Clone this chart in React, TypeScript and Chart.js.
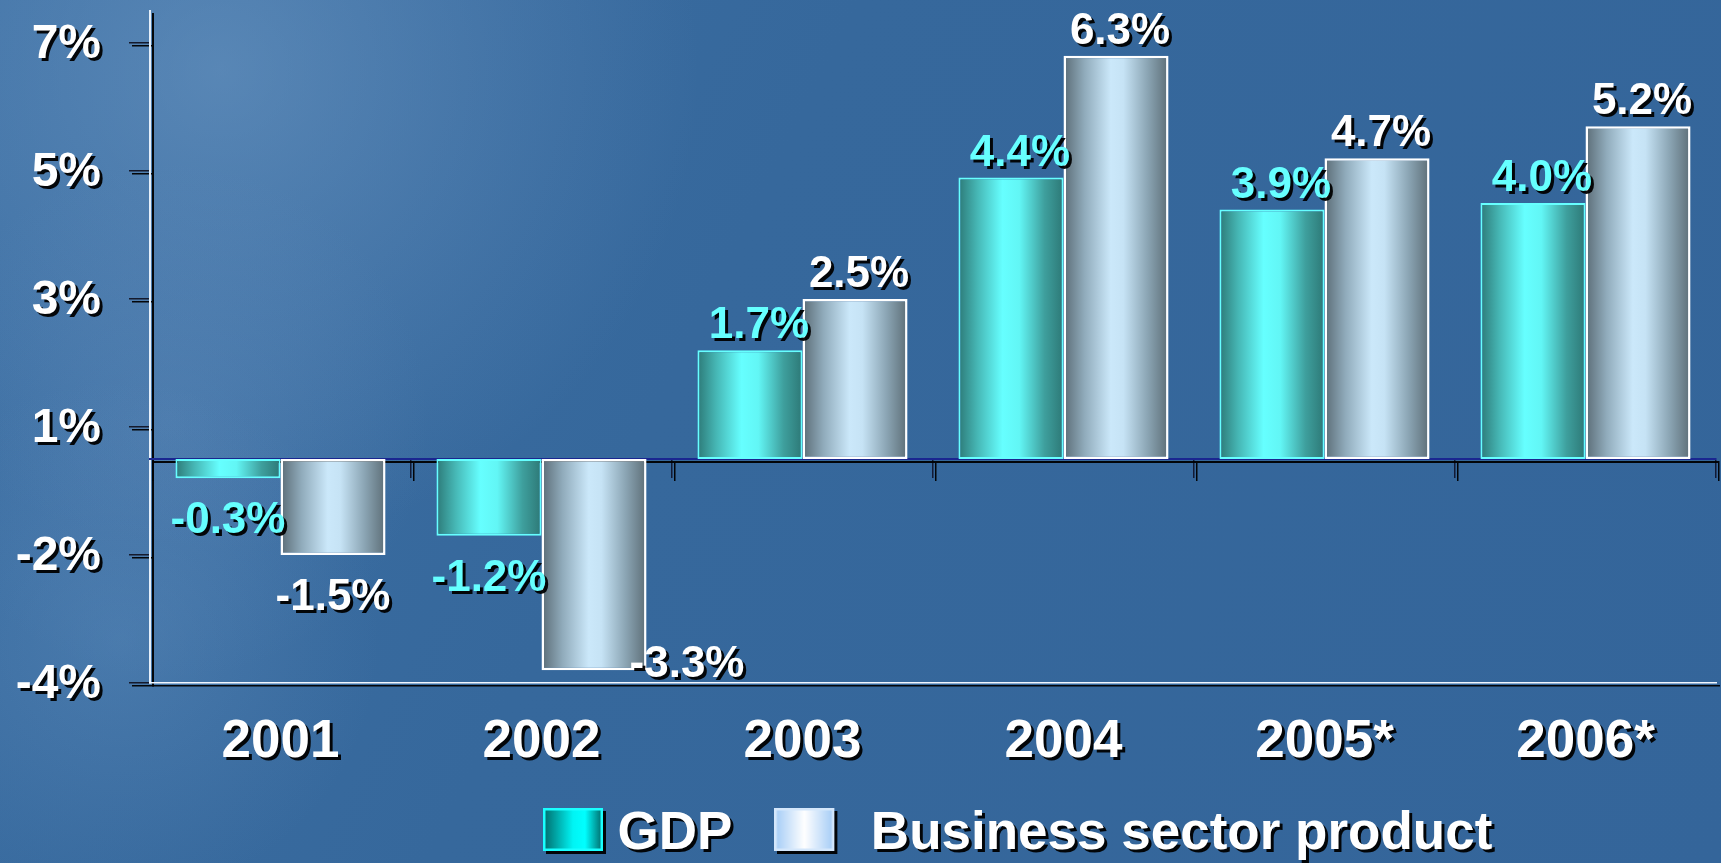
import React, { useEffect, useRef } from 'react';
import { Chart, registerables } from 'chart.js';

Chart.register(...registerables);

// ---- data ----
const CATEGORIES = ['2001', '2002', '2003', '2004', '2005*', '2006*'];
const GDP = [-0.3, -1.2, 1.7, 4.4, 3.9, 4.0];
const BUSINESS = [-1.5, -3.3, 2.5, 6.3, 4.7, 5.2];
const SERIES_NAMES = ['GDP', 'Business sector product'];
const Y_TICK_VALUES = [-3.5, -1.5, 0.5, 2.5, 4.5, 6.5];
const Y_TICK_LABELS = ['-4%', '-2%', '1%', '3%', '5%', '7%'];
const Y_MIN = -3.5;
const Y_MAX = 7;

// ---- style ----
const W = 1721;
const H = 863;
const FONT = '"Liberation Sans", Arial, Helvetica, sans-serif';
const CAT_PCT = 0.805;
const LEGEND_START_X = 519;
const LABEL_COLORS = ['#66ffff', '#ffffff'];

const GDP_STOPS: [number, string][] = [
  [0, '#2d7a78'],
  [0.18, '#46b7b5'],
  [0.42, '#66ffff'],
  [0.58, '#62f6f5'],
  [0.82, '#3e9f9d'],
  [1, '#2d7876'],
];
const BSP_STOPS: [number, string][] = [
  [0, '#5b6c76'],
  [0.2, '#90abbb'],
  [0.45, '#cbe8fa'],
  [0.57, '#c6e3f5'],
  [0.8, '#8ba5b4'],
  [1, '#5d6e77'],
];

function barGradient(stops: [number, string][]) {
  return (c: any) => {
    const chart = c.chart;
    const xs = chart.scales && chart.scales.x;
    if (c.type !== 'data' || !xs || !(xs.right > xs.left)) return stops[2][1];
    const n = chart.data.labels.length;
    const catW = (xs.right - xs.left) / n;
    const barW = (catW * CAT_PCT) / 2;
    const center = xs.getPixelForValue(c.dataIndex);
    const left = center - (catW * CAT_PCT) / 2 + c.datasetIndex * barW;
    const g = chart.ctx.createLinearGradient(left, 0, left + barW, 0);
    stops.forEach(([o, col]) => g.addColorStop(o, col));
    return g;
  };
}

// legend swatch: a 60x43 box inside a transparent canvas; `off` moves the box
// horizontally relative to the canvas centre, the box sits 5px above centre
function makeIcon(stops: [number, string][], border: string, off: number) {
  const cv = document.createElement('canvas');
  const cw = Math.round(60 + 2 * Math.abs(off));
  cv.width = cw;
  cv.height = 53;
  const bx = off > 0 ? cw - 60 : 0;
  const x = cv.getContext('2d')!;
  const g = x.createLinearGradient(bx, 0, bx + 60, 0);
  stops.forEach(([o, col]) => g.addColorStop(o, col));
  x.fillStyle = g;
  x.fillRect(bx, 0, 60, 43);
  x.strokeStyle = border;
  x.lineWidth = 2.5;
  x.strokeRect(bx + 1.25, 1.25, 57.5, 40.5);
  return cv;
}

function setShadow(ctx: CanvasRenderingContext2D, on: boolean) {
  ctx.shadowColor = on ? 'rgba(0,0,0,0.95)' : 'rgba(0,0,0,0)';
  ctx.shadowOffsetX = on ? 3 : 0;
  ctx.shadowOffsetY = on ? 3 : 0;
  ctx.shadowBlur = 0;
}

function paintBackground(ctx: CanvasRenderingContext2D) {
  const base = ctx.createLinearGradient(0, 0, W, H);
  base.addColorStop(0, '#3c6fa3');
  base.addColorStop(0.4, '#36689c');
  base.addColorStop(1, '#34659a');
  ctx.fillStyle = base;
  ctx.fillRect(0, 0, W, H);
  const glow = (cx: number, cy: number, r: number, col: string) => {
    const g = ctx.createRadialGradient(cx, cy, 0, cx, cy, r);
    g.addColorStop(0, col);
    g.addColorStop(1, 'rgba(120,160,205,0)');
    ctx.fillStyle = g;
    ctx.fillRect(0, 0, W, H);
  };
  glow(220, 70, 480, 'rgba(130,170,210,0.42)');
  glow(170, 420, 260, 'rgba(120,160,205,0.22)');
  glow(120, 640, 260, 'rgba(120,165,210,0.25)');
}

const slidePlugin = {
  id: 'slideLook',
  afterLayout(chart: any) {
    const lg = chart.legend;
    if (lg && lg.lineWidths) {
      const pad = lg.options.labels.padding;
      const start = (lg.left + pad + lg.right - lg.lineWidths[0]) / 2;
      const shift = LEGEND_START_X - start;
      lg.left += shift;
      lg.right += shift;
    }
  },
  beforeDraw(chart: any) {
    const ctx = chart.ctx;
    setShadow(ctx, false);
    paintBackground(ctx);
    setShadow(ctx, true);
  },
  beforeDatasetsDraw(chart: any) {
    setShadow(chart.ctx, false);
  },
  afterDatasetsDraw(chart: any) {
    const ctx = chart.ctx;
    setShadow(ctx, true);
    ctx.save();
    ctx.font = `bold 44px ${FONT}`;
    ctx.textAlign = 'center';
    ctx.textBaseline = 'middle';
    chart.data.datasets.forEach((ds: any, di: number) => {
      const meta = chart.getDatasetMeta(di);
      meta.data.forEach((el: any, i: number) => {
        const v = ds.data[i];
        const txt = `${v.toFixed(1)}%`;
        const p = el.getProps(['x', 'y', 'width'], true);
        ctx.fillStyle = LABEL_COLORS[di];
        let x = p.x;
        let y: number;
        if (v >= 0) {
          x += di === 0 ? 9 : 4;
          y = p.y - 24;
        } else {
          y = p.y + 43;
          if (y + 20 > chart.chartArea.bottom) {
            const w = ctx.measureText(txt).width;
            x = p.x + p.width / 2 + w / 2 - 17;
            y = p.y - 5;
          }
        }
        ctx.fillText(txt, x, y);
      });
    });
    ctx.restore();
  },
};

export default function App() {
  const ref = useRef<HTMLCanvasElement>(null);

  useEffect(() => {
    document.body.style.margin = '0';
    document.body.style.background = '#36689c';
    const icons = [
      makeIcon([[0, '#006868'], [0.5, '#00f4f4'], [0.7, '#00ffff'], [1, '#006464']], '#19ffff', 18),
      makeIcon([[0, '#a2cbf6'], [0.5, '#ffffff'], [1, '#a2cbf6']], '#d4e7fb', -4),
    ];

    const chart = new Chart(ref.current!, {
      type: 'bar',
      data: {
        labels: CATEGORIES,
        datasets: [
          {
            label: SERIES_NAMES[0],
            data: GDP,
            backgroundColor: barGradient(GDP_STOPS),
            borderColor: '#66ffff',
            borderWidth: 2,
            borderSkipped: false,
            xAxisID: 'x',
            yAxisID: 'y',
            categoryPercentage: CAT_PCT,
            barPercentage: 1,
          },
          {
            label: SERIES_NAMES[1],
            data: BUSINESS,
            backgroundColor: barGradient(BSP_STOPS),
            borderColor: '#ffffff',
            borderWidth: 2.5,
            borderSkipped: false,
            xAxisID: 'x',
            yAxisID: 'y',
            categoryPercentage: CAT_PCT,
            barPercentage: 1,
          },
        ],
      },
      options: {
        responsive: false,
        animation: false,
        devicePixelRatio: 1,
        events: [],
        layout: { padding: { top: 11, right: 5, left: 0, bottom: -8 } },
        scales: {
          y: {
            type: 'linear',
            position: 'left',
            min: Y_MIN,
            max: Y_MAX,
            afterBuildTicks: (s: any) => {
              s.ticks = Y_TICK_VALUES.map((v) => ({ value: v }));
            },
            afterFit: (s: any) => {
              s.width = 150;
              s.paddingTop = 0;
              s.paddingBottom = 0;
            },
            ticks: {
              autoSkip: false,
              callback: (_v: any, i: number) => Y_TICK_LABELS[i],
              color: '#ffffff',
              font: { family: FONT, size: 48, weight: 'bold' },
              padding: 28,
              labelOffset: 2,
            },
            grid: { drawOnChartArea: false, drawTicks: true, tickLength: 21, color: '#151a2c', lineWidth: 1.5 },
            border: { display: true, color: '#e6eff9', width: 2 },
          },
          x: {
            type: 'category',
            position: { y: 0 } as any,
            offset: true,
            grid: { offset: true, drawOnChartArea: false, drawTicks: true, tickLength: 18, color: '#121a35', lineWidth: 1.5 },
            border: { display: true, color: '#1a2690', width: 2 },
            ticks: { display: false },
          },
          x2: {
            type: 'category',
            axis: 'x',
            position: 'bottom',
            offset: true,
            grid: { display: false, drawTicks: false },
            border: { display: true, color: '#f2f7ff', width: 1.5 },
            ticks: {
              color: '#ffffff',
              font: { family: FONT, size: 53, weight: 'bold' },
              padding: 28,
              maxRotation: 0,
              autoSkip: false,
            },
            afterFit: (s: any) => {
              s.height = 85;
              s.paddingLeft = 0;
              s.paddingRight = 0;
            },
          } as any,
        },
        plugins: {
          tooltip: { enabled: false },
          title: { display: false },
          legend: {
            display: true,
            position: 'bottom',
            align: 'center',
            labels: {
              usePointStyle: true,
              pointStyleWidth: 72,
              padding: 40,
              color: '#ffffff',
              font: { family: FONT, size: 53, weight: 'bold' },
              generateLabels: () =>
                SERIES_NAMES.map((t, i) => ({
                  text: t,
                  pointStyle: icons[i],
                  fillStyle: '#ffffff',
                  strokeStyle: '#ffffff',
                  fontColor: '#ffffff',
                  lineWidth: 0,
                  hidden: false,
                  datasetIndex: i,
                })),
            },
          },
        },
      } as any,
      plugins: [slidePlugin],
    });
    return () => chart.destroy();
  }, []);

  return (
    <div style={{ width: W, height: H, overflow: 'hidden' }}>
      <canvas ref={ref} width={W} height={H} style={{ display: 'block', width: W, height: H }} />
    </div>
  );
}
